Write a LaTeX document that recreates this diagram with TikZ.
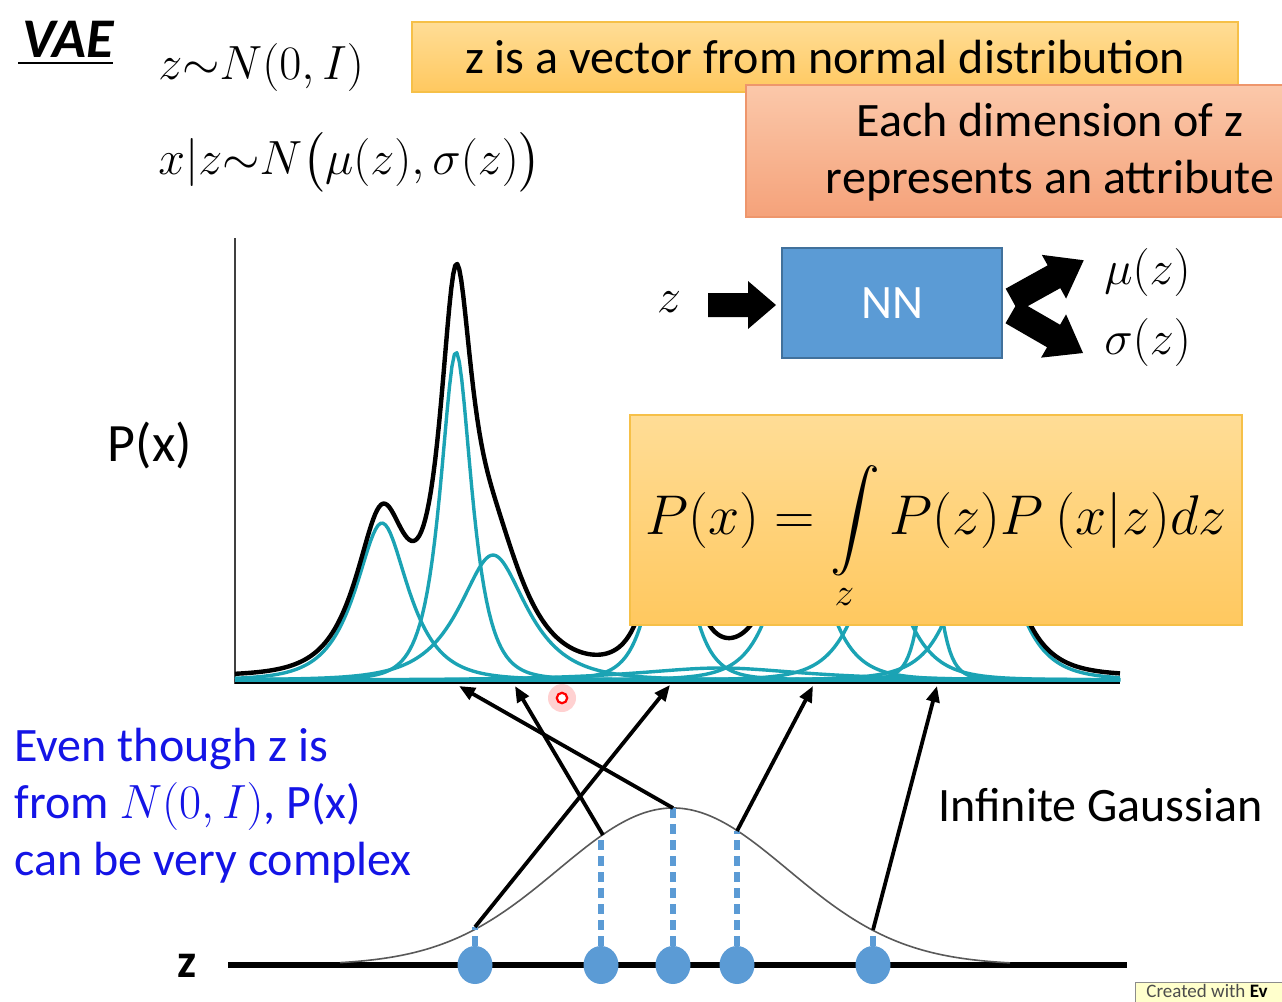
\RequirePackage{fix-cm}
\documentclass[tikz,border=0pt]{standalone}
\usepackage{exscale}
\usepackage{fontspec}
\setmainfont{Carlito}
\usetikzlibrary{arrows.meta,shapes.geometric}
\definecolor{cyanc}{RGB}{27,163,180}
\definecolor{dotblue}{RGB}{91,155,213}
\definecolor{txtblue}{RGB}{20,20,230}
\definecolor{yelT}{RGB}{255,221,150}
\definecolor{yelB}{RGB}{255,200,95}
\definecolor{yelD}{RGB}{246,192,72}
\definecolor{salT}{RGB}{251,200,170}
\definecolor{salB}{RGB}{245,162,122}
\definecolor{salD}{RGB}{238,150,108}
\definecolor{nnblue}{RGB}{91,155,213}
\definecolor{nnD}{RGB}{65,113,156}
\definecolor{wmark}{RGB}{255,255,204}
\begin{document}
\begin{tikzpicture}[x=0.5pt,y=-0.5pt,
  declare function={rr(\uu)=1/(1+\uu*\uu);
    sch(\uu)=1/cosh(min(abs(\uu),9));
    lz(\ux,\uc,\uh,\uw)=\uh*(0.75*sch((\ux-\uc)/\uw)+0.25*rr((\ux-\uc)/\uw));
    sumf(\ux)=lz(\ux,382,157,25)+lz(\ux,456,328,15)+lz(\ux,493,125,32)+lz(\ux,670,190,16)+lz(\ux,800,170,22)+lz(\ux,880,120,24)+lz(\ux,930,140,9)+lz(\ux,985,180,24)+lz(\ux,720,12,80);},
  txt/.style={font=\fontsize{24}{28.5}\selectfont, inner sep=0pt},
  mth/.style={font=\fontsize{24}{28}\selectfont, inner sep=0pt},
  ybox/.style={draw=yelD, line width=0.8pt, top color=yelT, bottom color=yelB},
  sbox/.style={draw=salD, line width=0.8pt, top color=salT, bottom color=salB},
  cyanline/.style={cyanc, line width=1.7pt, line join=round},
  sumline/.style={black, line width=2.2pt, line join=round},
  zarrow/.style={line width=1.9pt, -{Triangle[length=8pt,width=6.5pt]}},
  dashv/.style={dotblue, line width=3pt, dash pattern=on 5pt off 3pt},
  dotn/.style={ellipse, fill=dotblue, minimum width=17.5pt, minimum height=19pt, inner sep=0pt},
  blockarrow/.style={fill=black}
]
\useasboundingbox (0,0) rectangle (1282,1002);
\fill[white] (0,0) rectangle (1282,1002);

% ---- title and formulas
\node[anchor=south west, inner sep=0pt, font=\fontsize{28}{28}\selectfont\bfseries\itshape] (vae) at (22,58) {VAE};
\draw[line width=1.2pt] (18,63) -- (113,63);
\node[mth, anchor=west] (f1) at (158,67) {$z{\sim}N(0,I)$};
\node[mth, anchor=west] (f2) at (158,162) {$x|z{\sim}N\big(\mu(z),\sigma(z)\big)$};

% ---- top boxes
\draw[ybox] (412,22) rectangle (1238,92);
\node[txt] (b1) at (825,57) {z is a vector from normal distribution};
\draw[sbox] (746,85) rectangle (1360,217);
\node[txt, align=center] (b2) at (1050,152) {Each dimension of z\\represents an attribute};

% ---- plot
\draw[black!75, line width=1pt] (235,238) -- (235,684);
\foreach \cc/\hh/\ww in {382/157/25,456/328/15,493/125/32,670/190/16,800/170/22,880/120/24,930/140/9,985/180/24,720/12/80}{
  \draw[cyanline] plot[domain=235:1120, samples=360] (\x,{680-lz(\x,\cc,\hh,\ww)});
}
\draw[cyanc, line width=1.6pt] (235,680) -- (1120,680);
\draw[black, line width=1pt] (235,683) -- (1120,683);
\draw[sumline] plot[domain=235:1120, samples=443] (\x,{677-sumf(\x)});
\node[anchor=center, inner sep=0pt, font=\fontsize{27}{27}\selectfont] (px) at (150,445) {P(x)};

% ---- formula box
\draw[ybox] (630,415) rectangle (1242,625);
\node[inner sep=0pt, font=\fontsize{28}{28}\selectfont] (eq) at (936,538) {$\displaystyle P(x)=\int\limits_z P(z)P\ (x|z)dz$};

% ---- NN block
\node[mth] (zin) at (669,302) {$z$};
\node[draw=nnD, line width=0.6pt, fill=nnblue, minimum width=110pt, minimum height=55pt, inner sep=0pt, text=white, font=\fontsize{24}{24}\selectfont] (nn) at (892,303) {NN};
\fill[blockarrow] (708,293) -- (748,293) -- (748,281) -- (776,305) -- (748,329) -- (748,317) -- (708,317) -- cycle;
\begin{scope}[shift={(1012,300)}, rotate=29]
\fill[blockarrow] (0,-13) -- (48,-13) -- (48,-25) -- (82,0) -- (48,25) -- (48,13) -- (0,13) -- cycle;
\end{scope}
\begin{scope}[shift={(1012,312)}, rotate=-30]
\fill[blockarrow] (0,-13) -- (48,-13) -- (48,-25) -- (82,0) -- (48,25) -- (48,13) -- (0,13) -- cycle;
\end{scope}
\node[mth, anchor=west] (mu) at (1104,272) {$\mu(z)$};
\node[mth, anchor=west] (sg) at (1104,342) {$\sigma(z)$};

% ---- side texts
\node[txt, anchor=west, align=left, text=txtblue] (even) at (14,806) {Even though z is\\from $N(0,I)$, P(x)\\can be very complex};
\node[txt, anchor=west] (inf) at (938,805) {Infinite Gaussian};

% ---- z axis and gaussian
\node[inner sep=0pt, font=\fontsize{24}{24}\selectfont\bfseries] (zl) at (187,966) {z};
\coordinate (zaL) at (228,965);
\coordinate (zaR) at (1127,965);
\draw[line width=2.7pt] (zaL) -- (zaR);
\draw[black!65, line width=0.8pt] plot[domain=340:1010, samples=200] (\x,{965-157*exp(-((\x-673)/115)^2/2)});

\coordinate (g1) at (475,927);
\coordinate (g2) at (603,835);
\coordinate (g3) at (673,808);
\coordinate (g4) at (737,831);
\coordinate (g5) at (873,930);
\coordinate (t1) at (670,685);
\coordinate (t2) at (515,686);
\coordinate (t3) at (459,686);
\coordinate (t4) at (813,686);
\coordinate (t5) at (937,686);

\node[dotn] (d1) at (475,965) {};
\node[dotn] (d2) at (601,965) {};
\node[dotn] (d3) at (673,965) {};
\node[dotn] (d4) at (737,965) {};
\node[dotn] (d5) at (873,965) {};
\draw[dashv] (d1.north) -- (g1);
\draw[dashv] (d2.north) -- (601,835);
\draw[dashv] (d3.north) -- (g3);
\draw[dashv] (d4.north) -- (g4);
\draw[dashv] (d5.north) -- (g5);

\draw[zarrow] (g1) -- (t1);
\draw[zarrow] (g2) -- (t2);
\draw[zarrow] (g3) -- (t3);
\draw[zarrow] (g4) -- (t4);
\draw[zarrow] (g5) -- (t5);

% ---- cursor and watermark
\fill[red!18] (562,698) circle (7pt);
\draw[red, line width=1.1pt, fill=white] (562,698) circle (2.6pt);
\draw[draw=black!45, fill=wmark] (1135,982) rectangle (1300,1012);
\node[anchor=west, inner sep=0pt, text=black!70, font=\fontsize{9.5}{9.5}\selectfont] (wm) at (1146,991) {Created with \textcolor{black}{\textbf{Ev}}};
\end{tikzpicture}
\end{document}
